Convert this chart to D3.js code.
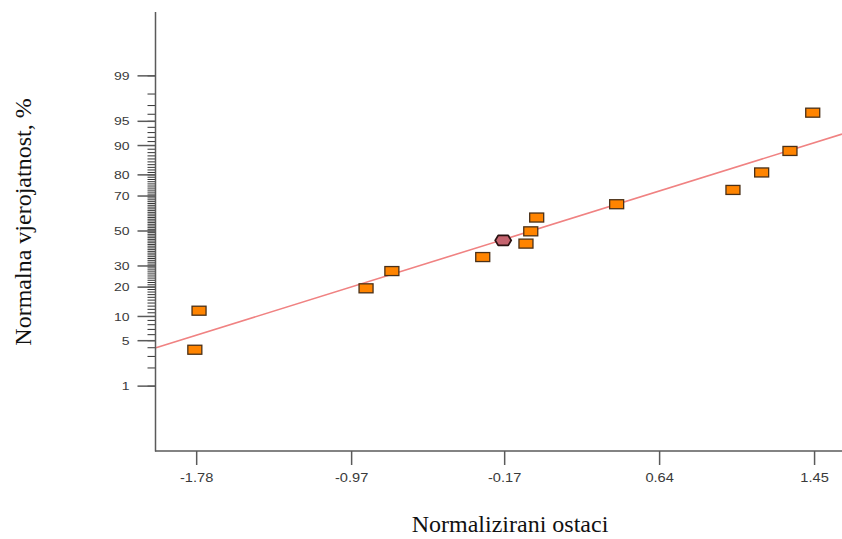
<!DOCTYPE html>
<html>
<head>
<meta charset="utf-8">
<script src="https://cdn.jsdelivr.net/npm/d3@7"></script>
<style>
  html, body { margin: 0; padding: 0; background: #fff; }
  svg { display: block; }
</style>
</head>
<body>
<svg id="chart" width="842" height="539"></svg>
<script>
// ---- data ----
const residuals   = [-1.787, -1.765, -0.892, -0.757, -0.282, -0.056, -0.031, 0.000, 0.418, 1.026, 1.176, 1.324, 1.443];
const probability = [3.75, 11.6, 19.5, 27.4, 34.8, 42.5, 49.8, 58.0, 65.6, 73.1, 81.0, 88.5, 96.2];
const highlightResidual = [-0.175];
const highlightProbability = [44.4];
const fitResidual = [-1.99, 1.596];
const fitProbability = [4.0, 92.7];
const xTickValues = [-1.78, -0.97, -0.17, 0.64, 1.45];
const xTickLabels = ["-1.78", "-0.97", "-0.17", "0.64", "1.45"];
const yMajorTicks = [1, 5, 10, 20, 30, 50, 70, 80, 90, 95, 99];
const yMinorTicks = d3.range(1, 100);
const xTitle = "Normalizirani ostaci";
const yTitle = "Normalna vjerojatnost, %";

// inverse normal CDF (Acklam)
function probit(p) {
  const a = [-3.969683028665376e+01, 2.209460984245205e+02, -2.759285104469687e+02, 1.383577518672690e+02, -3.066479806614716e+01, 2.506628277459239e+00];
  const b = [-5.447609879822406e+01, 1.615858368580409e+02, -1.556989798598866e+02, 6.680131188771972e+01, -1.328068155288572e+01];
  const c = [-7.784894002430293e-03, -3.223964580411365e-01, -2.400758277161838e+00, -2.549671064351316e+00, 4.374664141464968e+00, 2.938163982698783e+00];
  const d = [7.784695709041462e-03, 3.224671290700398e-01, 2.445134137142996e+00, 3.754408661907416e+00];
  const pl = 0.02425, ph = 1 - pl;
  let q, r;
  if (p < pl) {
    q = Math.sqrt(-2 * Math.log(p));
    return (((((c[0]*q+c[1])*q+c[2])*q+c[3])*q+c[4])*q+c[5]) / ((((d[0]*q+d[1])*q+d[2])*q+d[3])*q+1);
  } else if (p <= ph) {
    q = p - 0.5; r = q * q;
    return (((((a[0]*r+a[1])*r+a[2])*r+a[3])*r+a[4])*r+a[5])*q / (((((b[0]*r+b[1])*r+b[2])*r+b[3])*r+b[4])*r+1);
  } else {
    q = Math.sqrt(-2 * Math.log(1 - p));
    return -(((((c[0]*q+c[1])*q+c[2])*q+c[3])*q+c[4])*q+c[5]) / ((((d[0]*q+d[1])*q+d[2])*q+d[3])*q+1);
  }
}

const svg = d3.select("#chart");
const x = d3.scaleLinear().domain([-1.99, 1.596]).range([156, 842]);
const z = d3.scaleLinear().domain([-3.299, 3.284]).range([451, 12]);
const y = pct => z(probit(pct / 100));

const axisColor = "#5a5a5a";
const tickFont = "Liberation Sans, Arial, sans-serif";

// fit line
svg.append("line")
  .attr("x1", x(fitResidual[0])).attr("y1", y(fitProbability[0]))
  .attr("x2", x(fitResidual[1])).attr("y2", y(fitProbability[1]))
  .attr("stroke", "#f08282").attr("stroke-width", 1.6);

// y axis: minor ticks
const yAxisG = svg.append("g").attr("transform", "translate(155.5,0)");
yAxisG.selectAll("line.minor").data(yMinorTicks).enter().append("line")
  .attr("class", "minor")
  .attr("x1", -8).attr("x2", 0)
  .attr("y1", d => y(d)).attr("y2", d => y(d))
  .attr("stroke", "#333").attr("stroke-width", 1);
yAxisG.selectAll("line.major").data(yMajorTicks).enter().append("line")
  .attr("class", "major")
  .attr("x1", -18).attr("x2", 0)
  .attr("y1", d => y(d)).attr("y2", d => y(d))
  .attr("stroke", axisColor).attr("stroke-width", 1.5);
yAxisG.selectAll("text").data(yMajorTicks).enter().append("text")
  .attr("transform", d => `translate(-26,${y(d)}) scale(1.22,1)`)
  .attr("dy", "0.36em")
  .attr("text-anchor", "end")
  .attr("font-family", tickFont)
  .attr("font-size", 11.5).attr("fill", "#3a3a3a")
  .text(d => d);
yAxisG.append("line").attr("x1", 0).attr("x2", 0).attr("y1", 12).attr("y2", 451.5)
  .attr("stroke", axisColor).attr("stroke-width", 1.5);

// x axis
const xAxis = d3.axisBottom(x).tickValues(xTickValues).tickSize(14).tickPadding(8)
  .tickFormat((d, i) => xTickLabels[i]);
const xAxisG = svg.append("g").attr("transform", "translate(0,451)").call(xAxis);
xAxisG.select(".domain").remove();
xAxisG.selectAll(".tick line").attr("stroke", axisColor).attr("stroke-width", 1.5);
xAxisG.selectAll(".tick text")
  .attr("transform", "scale(1.22,1)")
  .attr("x", 0)
  .attr("font-family", tickFont)
  .attr("font-size", 12).attr("fill", "#3a3a3a");
xAxisG.append("line").attr("x1", 155).attr("x2", 842).attr("y1", 0).attr("y2", 0)
  .attr("stroke", axisColor).attr("stroke-width", 1.5);

// points
const pts = residuals.map((r, i) => ({ r, p: probability[i] }));
svg.selectAll("rect.pt").data(pts).enter().append("rect")
  .attr("class", "pt")
  .attr("x", d => x(d.r) - 7).attr("y", d => y(d.p) - 4.5)
  .attr("width", 14).attr("height", 9)
  .attr("fill", "#ff8400").attr("stroke", "#4a3018").attr("stroke-width", 1.3);

// highlighted point
const hl = highlightResidual.map((r, i) => ({ r, p: highlightProbability[i] }));
svg.selectAll("path.hl").data(hl).enter().append("path")
  .attr("class", "hl")
  .attr("transform", d => `translate(${x(d.r)},${y(d.p)})`)
  .attr("d", "M-8,0 L-5,-5 L5,-5 L8,0 L5,5 L-5,5 Z")
  .attr("fill", "#c4636e").attr("stroke", "#2a1212").attr("stroke-width", 1.8)
  .attr("stroke-linejoin", "round");

// titles
svg.append("text")
  .attr("x", 510).attr("y", 532)
  .attr("text-anchor", "middle")
  .attr("font-family", "Liberation Serif, Times New Roman, serif")
  .attr("font-size", 24).attr("fill", "#111")
  .text(xTitle);
svg.append("text")
  .attr("transform", "translate(31,222) rotate(-90)")
  .attr("text-anchor", "middle")
  .attr("font-family", "Liberation Serif, Times New Roman, serif")
  .attr("font-size", 24).attr("fill", "#111")
  .text(yTitle);
</script>
</body>
</html>
